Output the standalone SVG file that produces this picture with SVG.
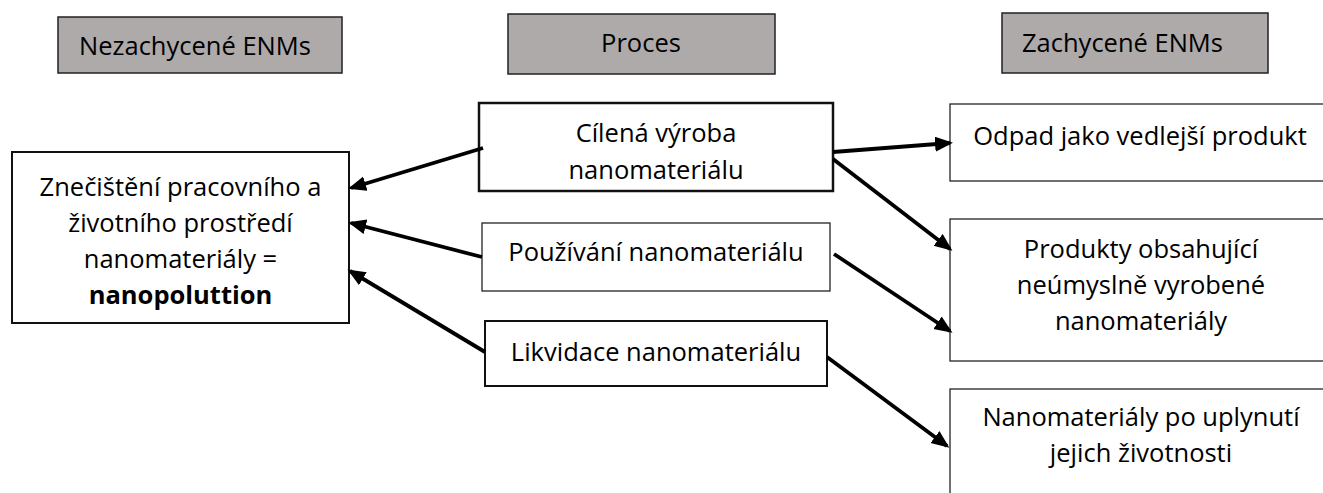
<svg xmlns="http://www.w3.org/2000/svg" width="1323" height="493" viewBox="0 0 1323 493">
  <style>
    text { font-family: "Open Sans", "Liberation Sans", sans-serif; font-size: 25.5px; fill: #000; }
    .c { text-anchor: middle; }
    .hdr { fill: #aeaaaa; stroke: #222; stroke-width: 1.5; }
    .box { fill: #fff; stroke: #111; }
    .conn { stroke: #000; stroke-width: 3.8; fill: none; marker-end: url(#ah); }
  </style>
  <defs>
    <marker id="ah" markerUnits="userSpaceOnUse" markerWidth="20" markerHeight="18" refX="15" refY="7.5" orient="auto">
      <path d="M0,0 L18,7.5 L0,15 z" fill="#000"/>
    </marker>
  </defs>
  <rect width="1323" height="493" fill="#fff"/>

  <g id="hdr-nezachycene">
    <rect class="hdr" x="58" y="17" width="284" height="56"/>
    <text x="79" y="55">Nezachycené ENMs</text>
  </g>
  <g id="hdr-proces">
    <rect class="hdr" x="508" y="14" width="267" height="60"/>
    <text class="c" x="641" y="52">Proces</text>
  </g>
  <g id="hdr-zachycene">
    <rect class="hdr" x="1002" y="13" width="266" height="60"/>
    <text x="1022" y="52">Zachycené ENMs</text>
  </g>

  <g id="node-znecisteni">
    <rect class="box" x="12" y="152" width="337" height="171" stroke-width="2"/>
    <text class="c" x="180.5" y="196">Znečištění pracovního a</text>
    <text class="c" x="180.5" y="232">životního prostředí</text>
    <text class="c" x="180.5" y="268">nanomateriály =</text>
    <text class="c" x="180.5" y="304" font-weight="bold">nanopoluttion</text>
  </g>

  <g id="node-cilena">
    <rect class="box" x="479" y="103" width="354" height="88" stroke-width="2.5"/>
    <text class="c" x="656" y="142">Cílená výroba</text>
    <text class="c" x="656" y="179">nanomateriálu</text>
  </g>
  <g id="node-pouzivani">
    <rect class="box" x="482" y="223" width="348" height="68" stroke-width="1.2"/>
    <text class="c" x="656" y="261">Používání nanomateriálu</text>
  </g>
  <g id="node-likvidace">
    <rect class="box" x="485" y="321" width="342" height="65" stroke-width="2"/>
    <text class="c" x="656" y="361">Likvidace nanomateriálu</text>
  </g>

  <g id="node-odpad">
    <rect class="box" x="950" y="104" width="420" height="77" stroke-width="1.2"/>
    <text class="c" x="1140" y="145">Odpad jako vedlejší produkt</text>
  </g>
  <g id="node-produkty">
    <rect class="box" x="950" y="219" width="420" height="142" stroke-width="1.2"/>
    <text class="c" x="1141" y="258">Produkty obsahující</text>
    <text class="c" x="1141" y="294">neúmyslně vyrobené</text>
    <text class="c" x="1141" y="330">nanomateriály</text>
  </g>
  <g id="node-nanomaterialy">
    <rect class="box" x="950" y="389" width="420" height="130" stroke-width="1.2"/>
    <text class="c" x="1141" y="426">Nanomateriály po uplynutí</text>
    <text class="c" x="1141" y="462">jejich životnosti</text>
  </g>

  <g id="connectors">
    <line class="conn" x1="483" y1="148" x2="351" y2="188"/>
    <line class="conn" x1="482" y1="257" x2="351" y2="223"/>
    <line class="conn" x1="485" y1="352" x2="350" y2="271"/>
    <line class="conn" x1="833" y1="152" x2="950" y2="143"/>
    <line class="conn" x1="833" y1="159" x2="950" y2="249"/>
    <line class="conn" x1="834" y1="254" x2="950" y2="331"/>
    <line class="conn" x1="827" y1="357" x2="947" y2="446"/>
  </g>
</svg>
